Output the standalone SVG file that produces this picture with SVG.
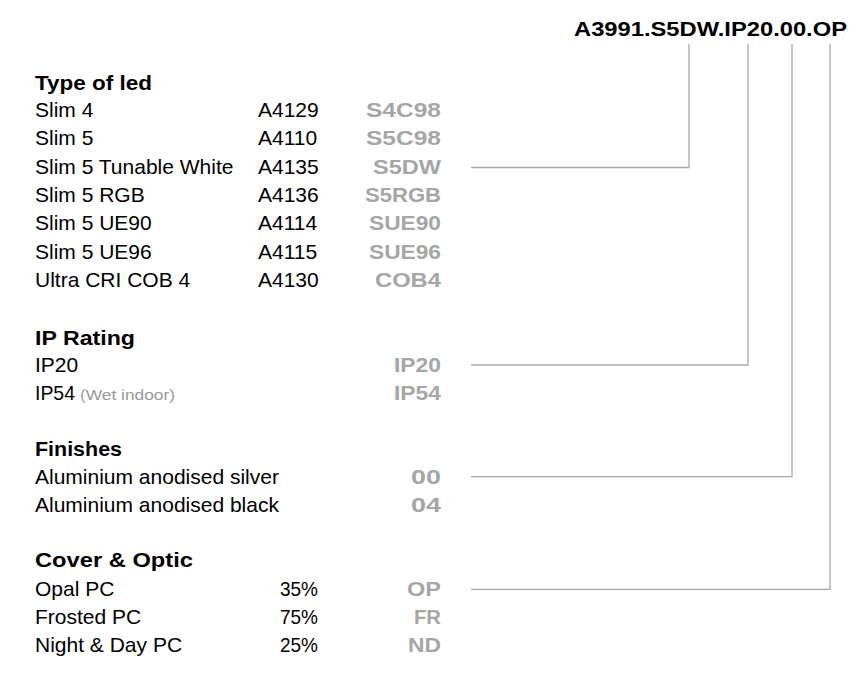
<svg xmlns="http://www.w3.org/2000/svg" width="858" height="694" viewBox="0 0 858 694">
<style>
text{font-family:"Liberation Sans",Arial,sans-serif;font-size:21px;fill:#000}
.h{font-weight:bold}
.c{font-weight:bold;fill:#a6a6a6;text-anchor:end}
.s{font-size:15px;fill:#999}
.t{font-weight:bold;text-anchor:end}
.ln{fill:none;stroke:#a8a8a8;stroke-width:1.3}
</style>
<rect width="858" height="694" fill="#fff"/>
<g id="title"><text class="t" x="847" y="36" textLength="273" lengthAdjust="spacingAndGlyphs">A3991.S5DW.IP20.00.OP</text></g>
<g id="type-of-led">
<text class="h" x="35" y="90" textLength="117" lengthAdjust="spacingAndGlyphs">Type of led</text>
<text x="35" y="116.7">Slim 4</text><text x="258" y="116.7">A4129</text><text class="c" x="441" y="116.7" textLength="75" lengthAdjust="spacingAndGlyphs">S4C98</text>
<text x="35" y="145.1">Slim 5</text><text x="258" y="145.1">A4110</text><text class="c" x="441" y="145.1" textLength="75" lengthAdjust="spacingAndGlyphs">S5C98</text>
<text x="35" y="173.5">Slim 5 Tunable White</text><text x="258" y="173.5">A4135</text><text class="c" x="441" y="173.5" textLength="68" lengthAdjust="spacingAndGlyphs">S5DW</text>
<text x="35" y="201.9">Slim 5 RGB</text><text x="258" y="201.9">A4136</text><text class="c" x="441" y="201.9" textLength="76" lengthAdjust="spacingAndGlyphs">S5RGB</text>
<text x="35" y="230.3">Slim 5 UE90</text><text x="258" y="230.3">A4114</text><text class="c" x="441" y="230.3" textLength="72" lengthAdjust="spacingAndGlyphs">SUE90</text>
<text x="35" y="258.7">Slim 5 UE96</text><text x="258" y="258.7">A4115</text><text class="c" x="441" y="258.7" textLength="72" lengthAdjust="spacingAndGlyphs">SUE96</text>
<text x="35" y="287.1">Ultra CRI COB 4</text><text x="258" y="287.1">A4130</text><text class="c" x="441" y="287.1" textLength="66" lengthAdjust="spacingAndGlyphs">COB4</text>
</g>
<g id="ip-rating">
<text class="h" x="35" y="345" textLength="100" lengthAdjust="spacingAndGlyphs">IP Rating</text>
<text x="35" y="371.7">IP20</text><text class="c" x="441" y="371.7" textLength="47" lengthAdjust="spacingAndGlyphs">IP20</text>
<text x="35" y="400" textLength="40" lengthAdjust="spacingAndGlyphs">IP54</text><text class="s" x="80" y="400" textLength="95" lengthAdjust="spacingAndGlyphs">(Wet indoor)</text><text class="c" x="441" y="400" textLength="47" lengthAdjust="spacingAndGlyphs">IP54</text>
</g>
<g id="finishes">
<text class="h" x="35" y="456" textLength="87" lengthAdjust="spacingAndGlyphs">Finishes</text>
<text x="35" y="484.3">Aluminium anodised silver</text><text class="c" x="441" y="484.3" textLength="30" lengthAdjust="spacingAndGlyphs">00</text>
<text x="35" y="511.7">Aluminium anodised black</text><text class="c" x="441" y="511.7" textLength="30" lengthAdjust="spacingAndGlyphs">04</text>
</g>
<g id="cover-optic">
<text class="h" x="35" y="567.3" textLength="158" lengthAdjust="spacingAndGlyphs">Cover &amp; Optic</text>
<text x="35" y="595.7">Opal PC</text><text x="280" y="595.7" textLength="38" lengthAdjust="spacingAndGlyphs">35%</text><text class="c" x="441" y="595.7" textLength="34" lengthAdjust="spacingAndGlyphs">OP</text>
<text x="35" y="624">Frosted PC</text><text x="280" y="624" textLength="38" lengthAdjust="spacingAndGlyphs">75%</text><text class="c" x="441" y="624" textLength="27" lengthAdjust="spacingAndGlyphs">FR</text>
<text x="35" y="651.7">Night &amp; Day PC</text><text x="280" y="651.7" textLength="38" lengthAdjust="spacingAndGlyphs">25%</text><text class="c" x="441" y="651.7" textLength="33" lengthAdjust="spacingAndGlyphs">ND</text>
</g>
<g id="connectors">
<polyline class="ln" points="471,167.5 689,167.5 689,44"/>
<polyline class="ln" points="471,365 748,365 748,44"/>
<polyline class="ln" points="471,476.7 792,476.7 792,44"/>
<polyline class="ln" points="471,589.3 830,589.3 830,44"/>
</g>
</svg>
